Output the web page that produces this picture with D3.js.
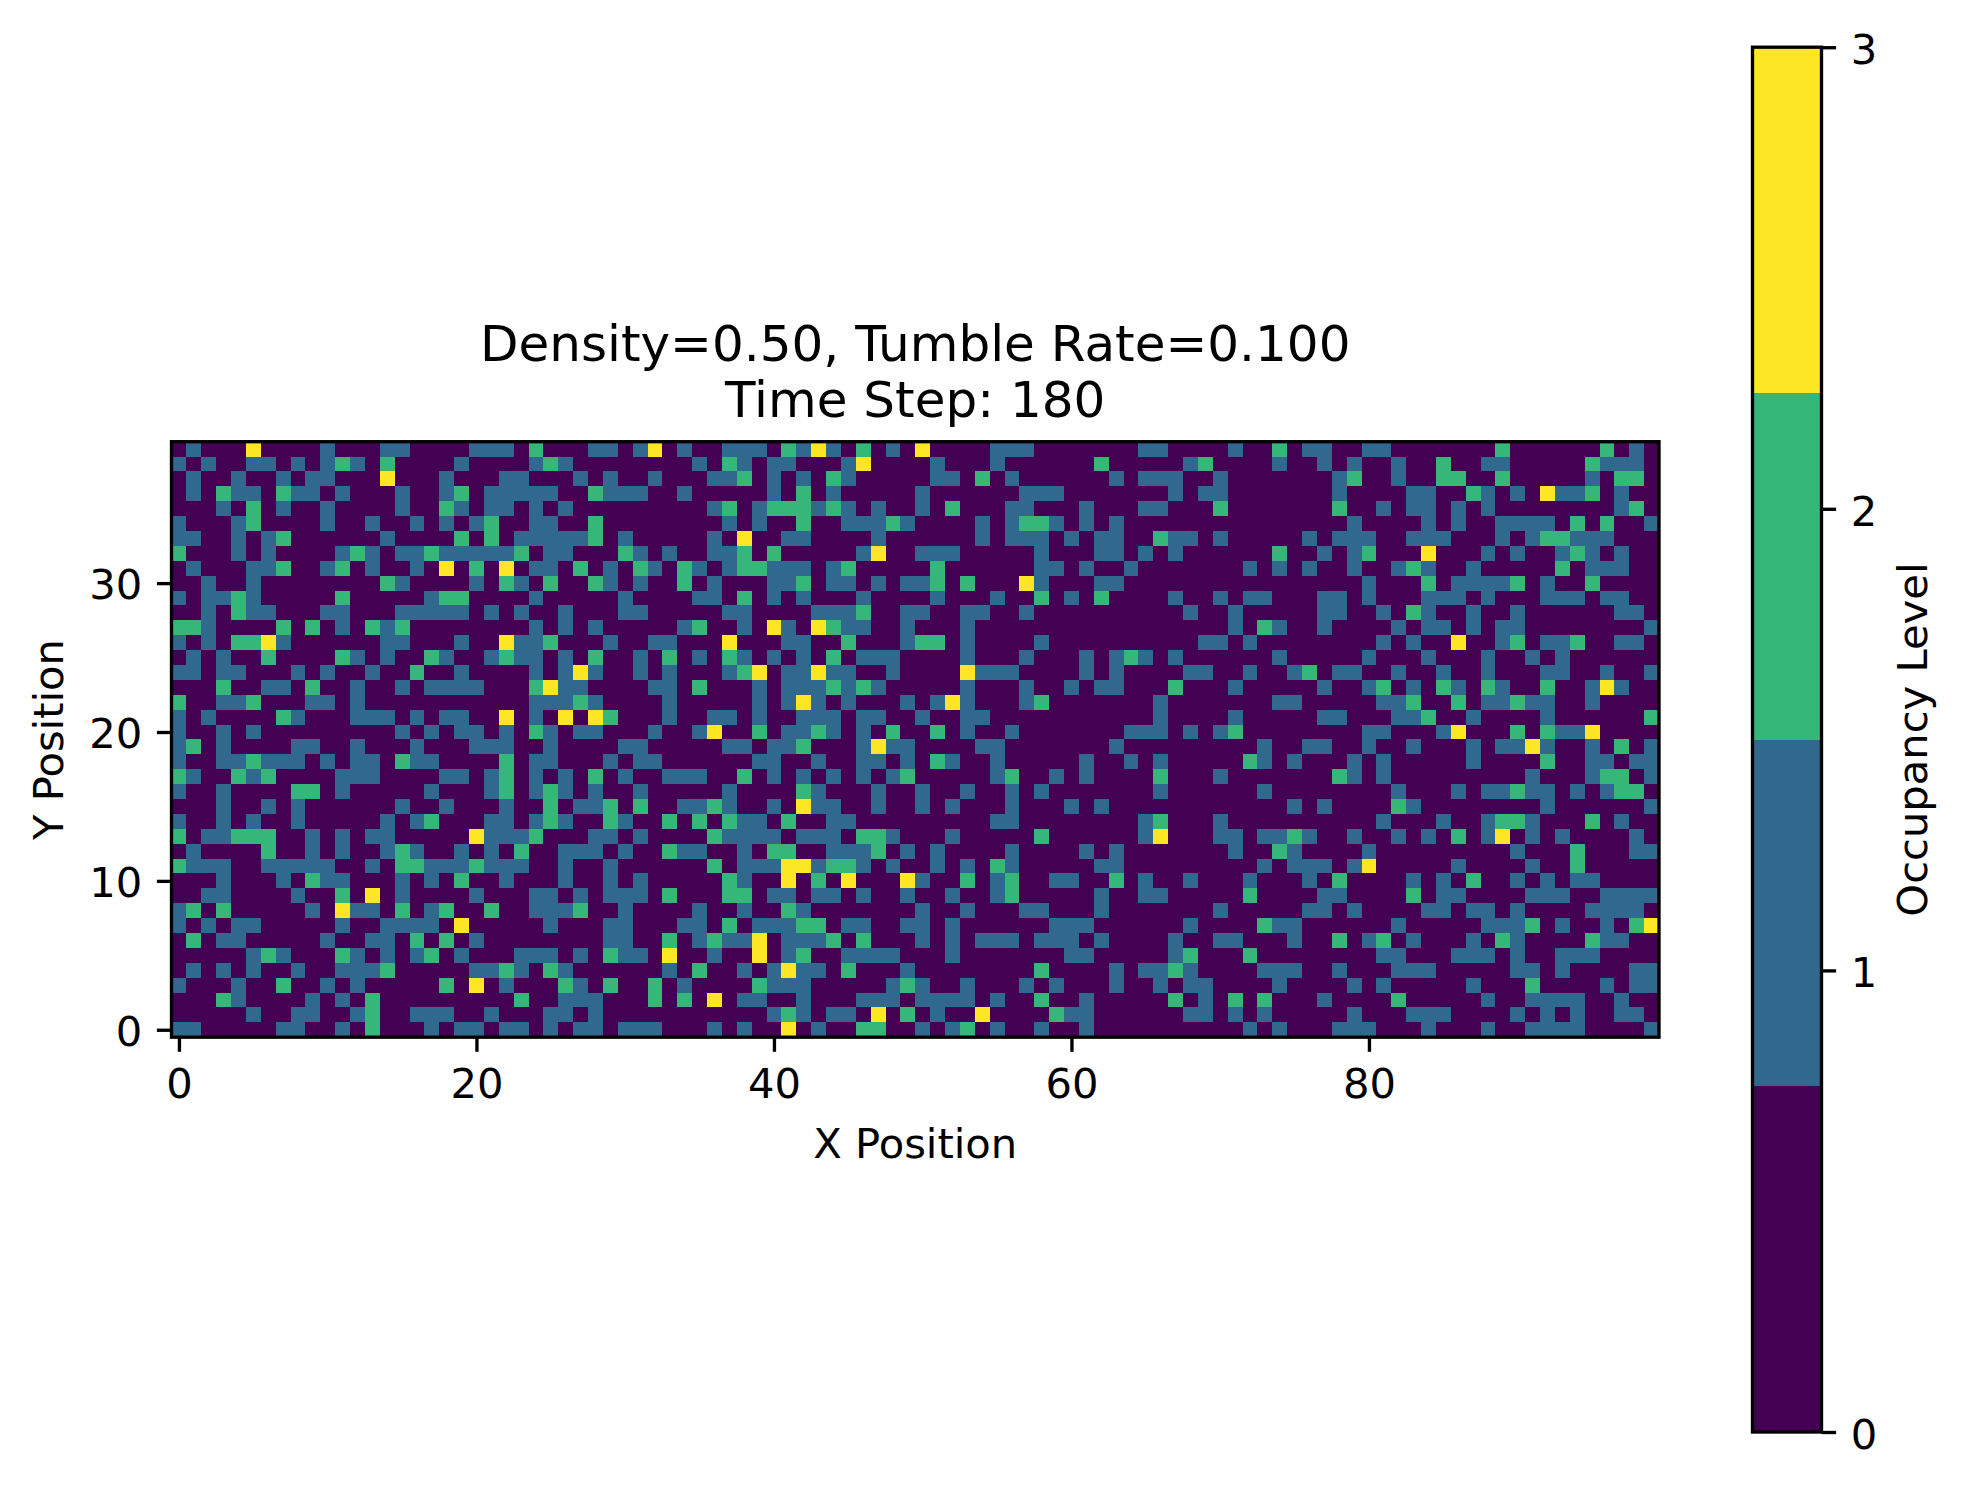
<!DOCTYPE html>
<html>
<head>
<meta charset="utf-8">
<title>Occupancy</title>
<script src="https://cdn.jsdelivr.net/npm/d3@7"></script>
<style>
  html, body { margin: 0; padding: 0; background: #fff; }
  text { font-family: "DejaVu Sans", sans-serif; fill: #000; }
</style>
</head>
<body>
<div id="chart"></div>
<script>
// one string per lattice row, top row (y = 39) first, one digit per x position
const occupancyRows = [
  "0100030000" + "1000110000" + "1110200011" + "0130100111" + "0213102010" + "3000011100" + "0000011000" + "0100201100" + "1100000002" + "0000002010",
  "1010011010" + "1210200001" + "0000121000" + "0000010210" + "1100013000" + "0100010000" + "0020000012" + "0000100101" + "0010020011" + "0000021110",
  "0100100101" + "1000300010" + "0011000101" + "0010001120" + "1010210000" + "0110201000" + "0001011100" + "1000000012" + "0010022002" + "0000010220",
  "0102110211" + "0100010012" + "0111110021" + "1100100000" + "1020100000" + "1000000111" + "0000000101" + "1000000010" + "0001100210" + "1031120100",
  "0001020100" + "1000010021" + "0110101000" + "0000001201" + "2221210100" + "1020001100" + "0100011000" + "2000000020" + "0101101010" + "0000000120",
  "1000120000" + "1001001010" + "1200110020" + "0000000101" + "0020011121" + "0000101221" + "0101000000" + "0000000001" + "0000101001" + "1110202001",
  "1100101200" + "0000100002" + "0201111120" + "1000001030" + "0110000100" + "0000101110" + "1011002110" + "1000001011" + "1001110001" + "0122111000",
  "2000101000" + "0121011211" + "1112011000" + "2101001120" + "2000001300" + "1110000010" + "0011010100" + "0000200101" + "2000300010" + "1001210100",
  "0100011200" + "1201001030" + "2030110201" + "0210210122" + "1110120000" + "0200000011" + "0100100000" + "0010101001" + "0012100100" + "0002011100",
  "0010010000" + "0000210000" + "1021020021" + "0100201000" + "1120110101" + "1202000310" + "0011000000" + "0000000000" + "1000201111" + "2010020000",
  "1011210000" + "0200000122" + "0000100000" + "1000011020" + "1010001000" + "0100010020" + "1020000100" + "1011000110" + "1000111010" + "0011101100",
  "0010211000" + "1100011111" + "0101001000" + "1100000110" + "0001112001" + "1001100100" + "0000000010" + "0100000110" + "0102100100" + "1000000110",
  "2210000202" + "0102120000" + "0000101010" + "0000120010" + "3103211001" + "0001000000" + "0000000000" + "0102100100" + "0010110101" + "1000000001",
  "1010223100" + "0000110001" + "0031120001" + "0011000300" + "0110020001" + "2201000010" + "0000000001" + "1010000000" + "0101003001" + "2011200110",
  "0101002000" + "0210100210" + "0121101020" + "0102010210" + "1010201110" + "0001000100" + "0101210100" + "0000100000" + "1000100010" + "0101000000",
  "1101100010" + "1001002001" + "0000101310" + "0101000123" + "0113110010" + "0003111000" + "0101000011" + "0010012011" + "0010010010" + "0011001001",
  "0002001102" + "0010010111" + "1000231100" + "0011020001" + "0111212100" + "0001000100" + "1011000200" + "0100000100" + "1201021021" + "0020013100",
  "2001120001" + "1010000000" + "0000111210" + "0001000001" + "0131010001" + "0131000120" + "0000001000" + "0000110000" + "0112002011" + "2110010000",
  "1010000210" + "0011101011" + "0030103032" + "0001001101" + "0011101100" + "1001100000" + "0000001000" + "0100000110" + "0011200100" + "0010000002",
  "1001010000" + "0000010101" + "1010210110" + "0010013002" + "0112101020" + "0201001000" + "0000111010" + "1200000000" + "1100013000" + "2021130000",
  "1201000011" + "0010001000" + "1110010000" + "1100000110" + "1120001311" + "0000110000" + "0001000000" + "0001001100" + "1001000101" + "1310010201",
  "1001121110" + "1011021100" + "0020110001" + "0110000001" + "1001001101" + "0210010000" + "0100101000" + "0021010001" + "0100000100" + "0020011011",
  "2100212000" + "0111000011" + "0120101020" + "1001110020" + "1010101012" + "0000012001" + "0100002000" + "1000000021" + "0100000000" + "0100012201",
  "1001000022" + "0100000100" + "0120121010" + "0100000100" + "0021000100" + "1001001010" + "0000001000" + "0001000000" + "0010001011" + "2110101220",
  "0001001010" + "0000010010" + "0010020112" + "0200112100" + "1031100100" + "1010001000" + "1010000000" + "0000010100" + "0021000000" + "0010000001",
  "1001010010" + "0000101200" + "0110121002" + "1002020211" + "0200110000" + "0000011000" + "0000012000" + "1000000000" + "0100010012" + "2100020100",
  "2011222001" + "0101100000" + "3111200011" + "0100002111" + "1011102210" + "0010000020" + "0000013000" + "1101121001" + "0010102013" + "0101000010",
  "0100002001" + "0100121001" + "0102001110" + "1002110010" + "2200111201" + "0100001000" + "0101000000" + "0100210000" + "1000000000" + "1000200011",
  "2111001111" + "1001022111" + "2111001001" + "0000002011" + "1331221010" + "0101021000" + "0011000000" + "0001011101" + "3000001000" + "0100200000",
  "0001000102" + "1100010102" + "0010001001" + "0100000210" + "0302030003" + "1002012001" + "1002010010" + "0010001020" + "0001010200" + "1010110000",
  "0011000010" + "0203010000" + "1000110101" + "1102000220" + "1101101001" + "0010012000" + "0010011000" + "0020000110" + "0002011000" + "0111001111",
  "1202000001" + "0311020120" + "0200111200" + "1000010010" + "0210000000" + "1001000110" + "0010000000" + "1000001101" + "0000110110" + "1000011110",
  "1010110000" + "0100111103" + "0000010001" + "1000110201" + "1122011001" + "1010000001" + "1100000010" + "0002110000" + "0010000011" + "1201001023",
  "0201100000" + "1001102020" + "1000000001" + "1002012113" + "0111202000" + "1010111011" + "1010000100" + "1100010020" + "1201000102" + "1000021100",
  "0000012100" + "0210101201" + "0001110102" + "1103001003" + "0120011110" + "0010000000" + "1100000120" + "0020000000" + "0110001110" + "1001110000",
  "0101010010" + "0111200000" + "1121021000" + "0001020010" + "1311020001" + "0000000020" + "0001011210" + "0001110010" + "0011100000" + "1101000011",
  "1000100200" + "1010000020" + "3010002102" + "0020100002" + "1110000012" + "1001000101" + "0001001011" + "0000100001" + "0100000100" + "0200001011",
  "0002100001" + "0102000000" + "0002001110" + "0020203011" + "0010001110" + "1111010020" + "0100000201" + "0202000100" + "0020000010" + "0111100100",
  "0000010011" + "0012001110" + "0100011010" + "0000000000" + "1210110302" + "0100300002" + "1100000011" + "0101000001" + "0001110000" + "1010100110",
  "1100000110" + "0102000101" + "1011010110" + "1110001010" + "0301002200" + "1012010010" + "0100000000" + "0010100011" + "1000100010" + "0111100001"
];
const levels = [0, 1, 2, 3];
const levelColours = ["#440154", "#31688e", "#35b779", "#fde725"];
const xTicks = [0, 20, 40, 60, 80];
const yTicks = [0, 10, 20, 30];
const titleLines = ["Density=0.50, Tumble Rate=0.100", "Time Step: 180"];

const width = 1965, height = 1488;
const plot = { left: 171.5, right: 1659, top: 441.7, bottom: 1037.2 };
const bar = { left: 1752.5, right: 1821.5, top: 47.2, bottom: 1432 };
const lineW = 3.33, tickLen = 14.6, tickPad = 14.6;
const tickFont = 41.67, titleFont = 50;

const cells = [];
occupancyRows.forEach((row, r) => {
  for (let c = 0; c < row.length; c++) {
    cells.push({ x: c, y: occupancyRows.length - 1 - r, value: +row[c] });
  }
});

const svg = d3.select("#chart").append("svg")
  .attr("width", width)
  .attr("height", height)
  .style("display", "block");

const x = d3.scaleLinear().domain([-0.5, 99.5]).range([plot.left, plot.right]);
const y = d3.scaleLinear().domain([-0.5, 39.5]).range([plot.bottom, plot.top]);
const colour = d3.scaleOrdinal().domain(levels).range(levelColours);

// heatmap
svg.append("g")
  .attr("shape-rendering", "crispEdges")
  .selectAll("rect")
  .data(cells)
  .join("rect")
    .attr("x", d => x(d.x - 0.5))
    .attr("y", d => y(d.y + 0.5))
    .attr("width", d => x(d.x + 0.5) - x(d.x - 0.5))
    .attr("height", d => y(d.y - 0.5) - y(d.y + 0.5))
    .attr("fill", d => colour(d.value));

function styleAxis(g, dy) {
  g.select(".domain").remove();
  g.selectAll("line").attr("stroke", "#000").attr("stroke-width", lineW);
  g.selectAll("text")
    .attr("dy", dy)
    .style("font-family", '"DejaVu Sans", sans-serif')
    .style("font-size", tickFont + "px")
    .attr("fill", "#000");
}

svg.append("g")
  .attr("transform", `translate(0,${plot.bottom})`)
  .call(d3.axisBottom(x).tickValues(xTicks).tickSize(tickLen).tickPadding(tickPad).tickFormat(d3.format("d")))
  .call(styleAxis, "0.76em");

svg.append("g")
  .attr("transform", `translate(${plot.left},0)`)
  .call(d3.axisLeft(y).tickValues(yTicks).tickSize(tickLen).tickPadding(tickPad).tickFormat(d3.format("d")))
  .call(styleAxis, "0.37em");

svg.append("rect")
  .attr("x", plot.left).attr("y", plot.top)
  .attr("width", plot.right - plot.left).attr("height", plot.bottom - plot.top)
  .attr("fill", "none").attr("stroke", "#000").attr("stroke-width", lineW);

// titles and axis labels
svg.append("text")
  .attr("x", (plot.left + plot.right) / 2).attr("y", 361)
  .attr("text-anchor", "middle").style("font-size", titleFont + "px")
  .text(titleLines[0]);
svg.append("text")
  .attr("x", (plot.left + plot.right) / 2).attr("y", 417)
  .attr("text-anchor", "middle").style("font-size", titleFont + "px")
  .text(titleLines[1]);
svg.append("text")
  .attr("x", (plot.left + plot.right) / 2).attr("y", 1157.5)
  .attr("text-anchor", "middle").style("font-size", tickFont + "px")
  .text("X Position");
svg.append("text")
  .attr("transform", `translate(62.5,${(plot.top + plot.bottom) / 2}) rotate(-90)`)
  .attr("text-anchor", "middle").style("font-size", tickFont + "px")
  .text("Y Position");

// colour bar, one block per level
const barScale = d3.scaleLinear().domain([0, 3]).range([bar.bottom, bar.top]);
const step = 3 / levels.length;

svg.append("g")
  .attr("shape-rendering", "crispEdges")
  .selectAll("rect")
  .data(levels)
  .join("rect")
    .attr("x", bar.left)
    .attr("y", d => barScale((d + 1) * step))
    .attr("width", bar.right - bar.left)
    .attr("height", d => barScale(d * step) - barScale((d + 1) * step))
    .attr("fill", d => colour(d));

svg.append("g")
  .attr("transform", `translate(${bar.right},0)`)
  .call(d3.axisRight(barScale).tickValues(levels).tickSize(tickLen).tickPadding(tickPad).tickFormat(d3.format("d")))
  .call(styleAxis, "0.39em");

svg.append("rect")
  .attr("x", bar.left).attr("y", bar.top)
  .attr("width", bar.right - bar.left).attr("height", bar.bottom - bar.top)
  .attr("fill", "none").attr("stroke", "#000").attr("stroke-width", lineW);

svg.append("text")
  .attr("transform", `translate(1927,${(bar.top + bar.bottom) / 2}) rotate(-90)`)
  .attr("text-anchor", "middle").style("font-size", tickFont + "px")
  .text("Occupancy Level");
</script>
</body>
</html>
